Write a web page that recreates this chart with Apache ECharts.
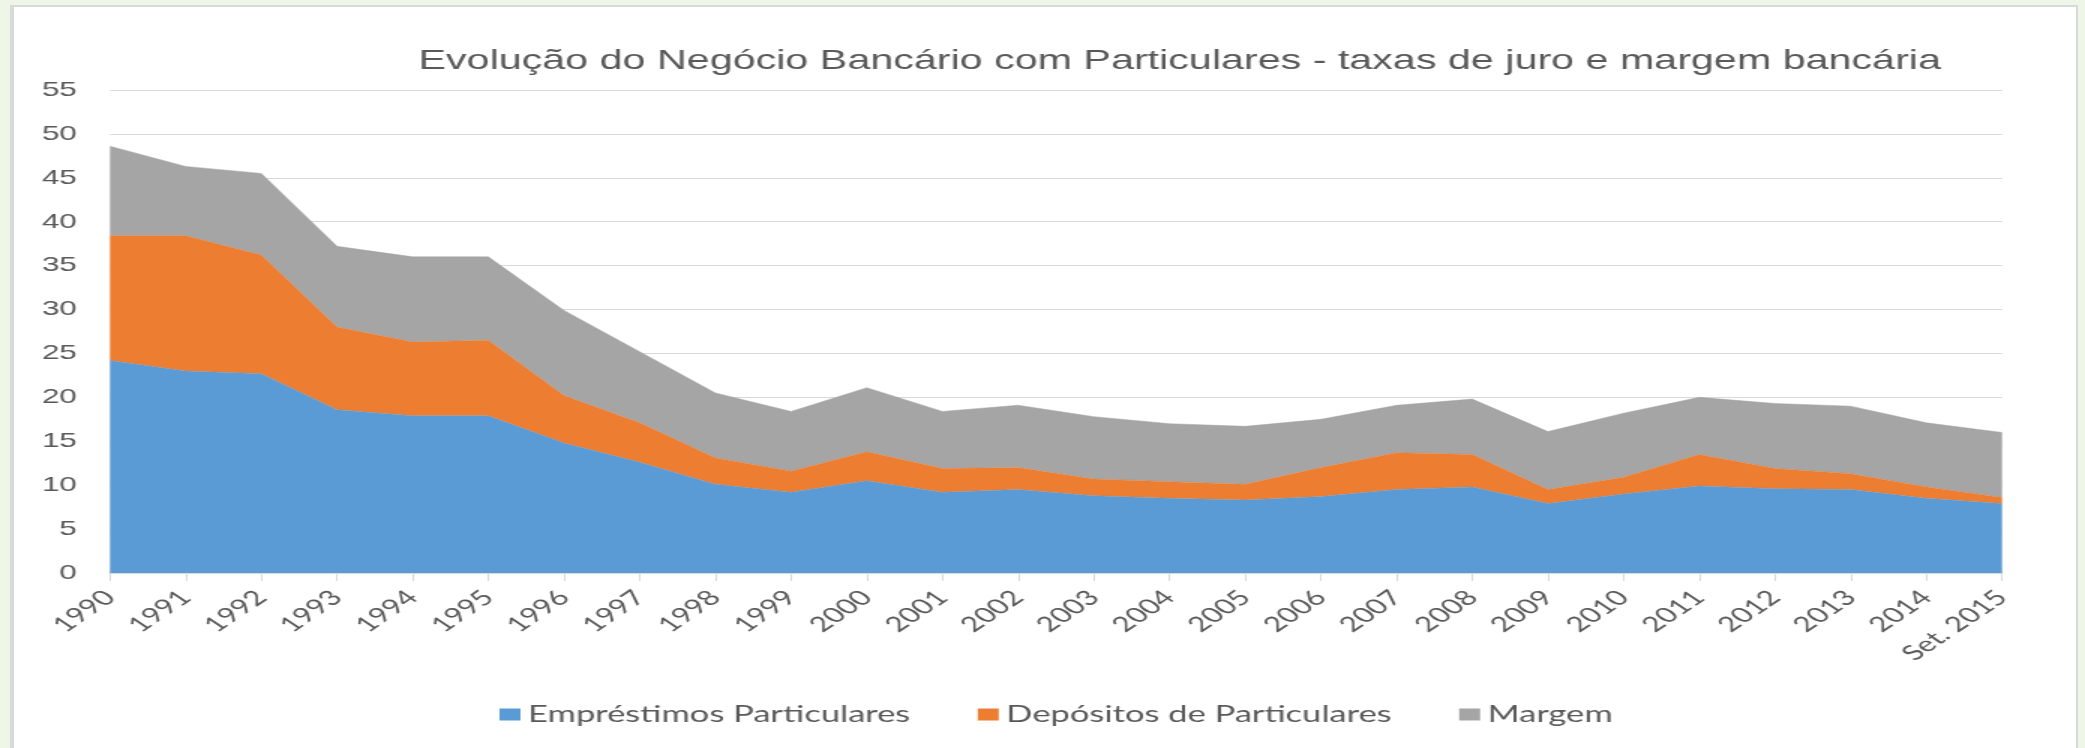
<!DOCTYPE html>
<html>
<head>
<meta charset="utf-8">
<script src="https://cdn.jsdelivr.net/npm/echarts@6/dist/echarts.min.js"></script>
<style>
  body { margin: 0; background: #edf6e7; overflow: hidden; }
  #panel {
    position: absolute; left: 10px; top: 5px; width: 2062px; height: 741px;
    background: #fff; border: 2px solid #d9d9d9; border-left-width: 4px;
  }
  /* the original picture is stretched sideways, so draw narrow and widen */
  #chart {
    position: absolute; left: 0; top: 0; width: 1390px; height: 748px;
    transform: scaleX(1.5); transform-origin: 0 0;
  }
</style>
</head>
<body>
<div id="panel"></div>
<div id="chart"></div>
<script>
const years = ["1990", "1991", "1992", "1993", "1994", "1995", "1996", "1997", "1998",
  "1999", "2000", "2001", "2002", "2003", "2004", "2005", "2006", "2007", "2008",
  "2009", "2010", "2011", "2012", "2013", "2014", "Set. 2015"];

// Empréstimos Particulares
const emprestimos = [24.2, 23.0, 22.7, 18.6, 17.9, 17.9, 14.8, 12.6, 10.1, 9.2, 10.5, 9.2,
  9.5, 8.8, 8.5, 8.3, 8.7, 9.5, 9.8, 7.9, 9.0, 9.9, 9.6, 9.5, 8.5, 7.9];
// Depósitos de Particulares (stacked on top)
const depositos = [14.2, 15.4, 13.5, 9.4, 8.4, 8.6, 5.4, 4.5, 3.0, 2.4, 3.3, 2.7,
  2.5, 1.9, 1.9, 1.8, 3.3, 4.2, 3.7, 1.6, 1.9, 3.6, 2.3, 1.8, 1.3, 0.7];
// Margem
const margem = [10.2, 7.9, 9.3, 9.2, 9.7, 9.5, 9.7, 8.1, 7.4, 6.8, 7.3, 6.5,
  7.1, 7.1, 6.6, 6.6, 5.5, 5.4, 6.3, 6.6, 7.3, 6.5, 7.4, 7.7, 7.3, 7.4];

const names = ["Empréstimos Particulares", "Depósitos de Particulares", "Margem"];
const colors = ["#5b9bd5", "#ed7d31", "#a5a5a5"];

function areaSeries(name, data, color) {
  return {
    name: name,
    type: "line",
    stack: "total",
    data: data,
    symbol: "none",
    itemStyle: { color: color },
    lineStyle: { width: 0.5, color: color },
    areaStyle: { color: color, opacity: 1 },
  };
}

let myChart = echarts.init(document.getElementById("chart"));
myChart.setOption({
  animation: false,
  title: {
    text: "Evolução do Negócio Bancário com Particulares - taxas de juro e margem bancária",
    left: 274,
    top: 42,
    textStyle: {
      fontFamily: "Liberation Sans",
      fontSize: 27.5,
      fontWeight: "normal",
      color: "#595959",
    },
  },
  legend: {
    left: 328,
    top: 698,
    itemWidth: 14,
    itemHeight: 12,
    itemGap: 45,
    icon: "rect",
    textStyle: { fontFamily: "Lato", fontSize: 23, color: "#595959" },
    data: names,
  },
  grid: { left: 73.3, right: 55.3, top: 90, bottom: 175 },
  xAxis: {
    type: "category",
    data: years,
    boundaryGap: false,
    axisLine: { lineStyle: { color: "#d9d9d9", width: 1.5 } },
    axisTick: { alignWithLabel: true, length: 8, lineStyle: { color: "#d9d9d9" } },
    axisLabel: {
      rotate: 45,
      interval: 0,
      margin: 21,
      fontFamily: "Lato",
      fontSize: 21,
      color: "#595959",
    },
  },
  yAxis: {
    type: "value",
    min: 0,
    max: 55,
    interval: 5,
    axisLine: { show: false },
    axisTick: { show: false },
    splitLine: { lineStyle: { color: "#d9d9d9", width: 1.2 } },
    axisLabel: {
      margin: 22,
      fontFamily: "Liberation Sans",
      fontSize: 21,
      color: "#595959",
    },
  },
  series: [
    areaSeries(names[0], emprestimos, colors[0]),
    areaSeries(names[1], depositos, colors[1]),
    areaSeries(names[2], margem, colors[2]),
  ],
});
</script>
</body>
</html>
